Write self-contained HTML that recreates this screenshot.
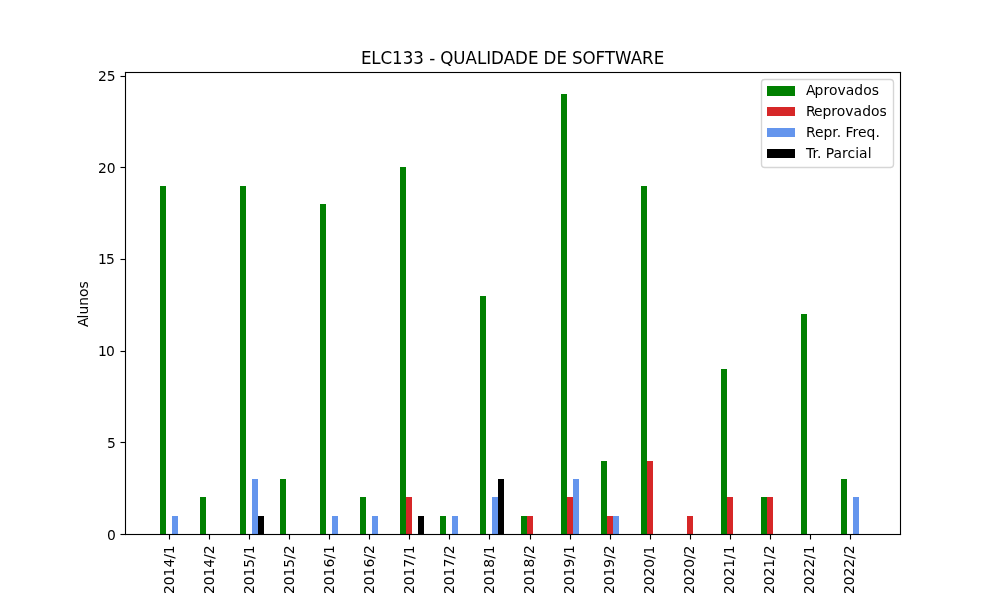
<!DOCTYPE html>
<html lang="pt-BR">
<head>
<meta charset="utf-8">
<title>ELC133 - QUALIDADE DE SOFTWARE</title>
<style>
html,body{margin:0;padding:0;background:#fff;}
body{width:1000px;height:600px;overflow:hidden;}
svg{display:block;}
text{font-family:"DejaVu Sans","Liberation Sans",sans-serif;fill:#000;}
.t10{font-size:13.889px;}
.t12{font-size:16.667px;}
.bar{shape-rendering:crispEdges;}
.ln{stroke:#000;stroke-width:1.111;fill:none;}
</style>
</head>
<body>
<svg width="1000" height="600" viewBox="0 0 1000 600">
<rect x="0" y="0" width="1000" height="600" fill="#ffffff"/>
<g class="bar">
<rect x="160" y="186" width="6" height="348" fill="#008000"/>
<rect x="172" y="516" width="6" height="18" fill="#6495ed"/>
<rect x="200" y="497" width="6" height="37" fill="#008000"/>
<rect x="240" y="186" width="6" height="348" fill="#008000"/>
<rect x="252" y="479" width="6" height="55" fill="#6495ed"/>
<rect x="258" y="516" width="6" height="18" fill="#000000"/>
<rect x="280" y="479" width="6" height="55" fill="#008000"/>
<rect x="320" y="204" width="6" height="330" fill="#008000"/>
<rect x="332" y="516" width="6" height="18" fill="#6495ed"/>
<rect x="360" y="497" width="6" height="37" fill="#008000"/>
<rect x="372" y="516" width="6" height="18" fill="#6495ed"/>
<rect x="400" y="167" width="6" height="367" fill="#008000"/>
<rect x="406" y="497" width="6" height="37" fill="#d62728"/>
<rect x="418" y="516" width="6" height="18" fill="#000000"/>
<rect x="440" y="516" width="6" height="18" fill="#008000"/>
<rect x="452" y="516" width="6" height="18" fill="#6495ed"/>
<rect x="480" y="296" width="6" height="238" fill="#008000"/>
<rect x="492" y="497" width="6" height="37" fill="#6495ed"/>
<rect x="498" y="479" width="6" height="55" fill="#000000"/>
<rect x="521" y="516" width="6" height="18" fill="#008000"/>
<rect x="527" y="516" width="6" height="18" fill="#d62728"/>
<rect x="561" y="94" width="6" height="440" fill="#008000"/>
<rect x="567" y="497" width="6" height="37" fill="#d62728"/>
<rect x="573" y="479" width="6" height="55" fill="#6495ed"/>
<rect x="601" y="461" width="6" height="73" fill="#008000"/>
<rect x="607" y="516" width="6" height="18" fill="#d62728"/>
<rect x="613" y="516" width="6" height="18" fill="#6495ed"/>
<rect x="641" y="186" width="6" height="348" fill="#008000"/>
<rect x="647" y="461" width="6" height="73" fill="#d62728"/>
<rect x="687" y="516" width="6" height="18" fill="#d62728"/>
<rect x="721" y="369" width="6" height="165" fill="#008000"/>
<rect x="727" y="497" width="6" height="37" fill="#d62728"/>
<rect x="761" y="497" width="6" height="37" fill="#008000"/>
<rect x="767" y="497" width="6" height="37" fill="#d62728"/>
<rect x="801" y="314" width="6" height="220" fill="#008000"/>
<rect x="841" y="479" width="6" height="55" fill="#008000"/>
<rect x="853" y="497" width="6" height="37" fill="#6495ed"/>
</g>
<g fill="#000">
<rect x="168.9444" y="534.5" width="1.1112" height="5"/>
<rect x="208.9444" y="534.5" width="1.1112" height="5"/>
<rect x="248.9444" y="534.5" width="1.1112" height="5"/>
<rect x="288.9444" y="534.5" width="1.1112" height="5"/>
<rect x="328.9444" y="534.5" width="1.1112" height="5"/>
<rect x="368.9444" y="534.5" width="1.1112" height="5"/>
<rect x="408.9444" y="534.5" width="1.1112" height="5"/>
<rect x="448.9444" y="534.5" width="1.1112" height="5"/>
<rect x="488.9444" y="534.5" width="1.1112" height="5"/>
<rect x="529.9444" y="534.5" width="1.1112" height="5"/>
<rect x="569.9444" y="534.5" width="1.1112" height="5"/>
<rect x="609.9444" y="534.5" width="1.1112" height="5"/>
<rect x="649.9444" y="534.5" width="1.1112" height="5"/>
<rect x="689.9444" y="534.5" width="1.1112" height="5"/>
<rect x="729.9444" y="534.5" width="1.1112" height="5"/>
<rect x="769.9444" y="534.5" width="1.1112" height="5"/>
<rect x="809.9444" y="534.5" width="1.1112" height="5"/>
<rect x="849.9444" y="534.5" width="1.1112" height="5"/>
<rect x="120.5" y="533.9444" width="5" height="1.1112"/>
<rect x="120.5" y="441.9444" width="5" height="1.1112"/>
<rect x="120.5" y="350.9444" width="5" height="1.1112"/>
<rect x="120.5" y="258.9444" width="5" height="1.1112"/>
<rect x="120.5" y="166.9444" width="5" height="1.1112"/>
<rect x="120.5" y="75.9444" width="5" height="1.1112"/>
<rect x="124.9444" y="71.9444" width="1.1112" height="463.1112"/>
<rect x="899.9444" y="71.9444" width="1.1112" height="463.1112"/>
<rect x="124.9444" y="533.9444" width="776.1112" height="1.1112"/>
<rect x="124.9444" y="71.9444" width="776.1112" height="1.1112"/>
</g>
<g class="t10">
<text transform="translate(173.59 593.94) rotate(-90)" x="0 8.75 17.5 26.375 35.125 39.75" y="0">2014/1</text>
<text transform="translate(213.60 594.04) rotate(-90)" x="0 8.75 17.5 26.375 35.125 39.75" y="0">2014/2</text>
<text transform="translate(253.65 594.08) rotate(-90)" x="0 8.75 17.5 26.375 35.125 39.75" y="0">2015/1</text>
<text transform="translate(293.66 594.07) rotate(-90)" x="0 8.75 17.5 26.375 35.125 39.75" y="0">2015/2</text>
<text transform="translate(333.67 593.89) rotate(-90)" x="0 8.75 17.5 26.375 35.25 39.875" y="0">2016/1</text>
<text transform="translate(373.68 593.90) rotate(-90)" x="0 8.75 17.5 26.375 35.25 39.875" y="0">2016/2</text>
<text transform="translate(413.66 594.10) rotate(-90)" x="0 8.75 17.5 26.375 35.125 39.75" y="0">2017/1</text>
<text transform="translate(453.67 593.99) rotate(-90)" x="0 8.75 17.5 26.375 35.125 39.75" y="0">2017/2</text>
<text transform="translate(493.67 594.04) rotate(-90)" x="0 8.75 17.5 26.375 35.25 39.875" y="0">2018/1</text>
<text transform="translate(533.68 593.92) rotate(-90)" x="0 8.75 17.5 26.375 35.25 39.875" y="0">2018/2</text>
<text transform="translate(573.63 593.96) rotate(-90)" x="0 8.75 17.5 26.375 35.25 39.875" y="0">2019/1</text>
<text transform="translate(613.64 594.11) rotate(-90)" x="0 8.75 17.5 26.375 35.25 39.875" y="0">2019/2</text>
<text transform="translate(653.65 594.11) rotate(-90)" x="0 8.75 17.5 26.25 35 39.625" y="0">2020/1</text>
<text transform="translate(693.67 594.12) rotate(-90)" x="0 8.75 17.5 26.25 35 39.625" y="0">2020/2</text>
<text transform="translate(733.66 594.00) rotate(-90)" x="0 8.75 17.5 26.25 35.125 39.75" y="0">2021/1</text>
<text transform="translate(773.68 594.12) rotate(-90)" x="0 8.75 17.5 26.25 35.125 39.75" y="0">2021/2</text>
<text transform="translate(813.68 593.98) rotate(-90)" x="0 8.75 17.5 26.25 35 39.625" y="0">2022/1</text>
<text transform="translate(853.70 593.98) rotate(-90)" x="0 8.75 17.5 26.25 35 39.625" y="0">2022/2</text>
<text x="107.009" y="539.56">0</text>
<text x="107.059" y="447.53">5</text>
<text x="98.019 105.894" y="355.67">10</text>
<text x="98.057 105.932" y="263.68">15</text>
<text x="97.953 106.703" y="172.67">20</text>
<text x="97.984 106.734" y="80.64">25</text>
<text transform="translate(87.70 326.99) rotate(-90)" x="0.109 8.609 12.484 21.234 29.984 38.484" y="0">Alunos</text>
</g>
<text class="t12" transform="translate(0 63.50) scale(1 1.07)" x="360.968 371.343 380.593 392.093 402.718 413.343 423.968 429.218 435.093 440.343 453.343 465.593 476.968 486.218 491.093 503.718 515.093 527.968 538.343 543.593 556.468 566.843 572.093 582.593 595.593 604.843 615.093 630.718 642.093 653.718" y="0">ELC133 - QUALIDADE DE SOFTWARE</text>
<rect x="761.5" y="79.5" width="132" height="88" rx="3.2" ry="3.2" fill="#ffffff" fill-opacity="0.8" stroke="#cccccc" stroke-opacity="0.8" stroke-width="1.389"/>
<g class="bar">
<rect x="767" y="86" width="28" height="10" fill="#008000"/>
<rect x="767" y="107" width="28" height="9" fill="#d62728"/>
<rect x="767" y="128" width="28" height="9" fill="#6495ed"/>
<rect x="767" y="149" width="28" height="9" fill="#000000"/>
</g>
<g class="t10">
<text x="806.06 814.56 823.435 828.935 837.435 845.685 854.31 863.185 871.685" y="94.55">Aprovados</text>
<text x="805.91 813.91 822.41 831.285 836.785 845.285 853.535 862.16 871.035 879.535" y="115.50">Reprovados</text>
<text x="805.981 814.981 823.481 832.356 836.856 841.231 845.606 852.606 858.106 866.606 875.481" y="136.71">Repr. Freq.</text>
<text x="805.909 812.409 816.909 821.284 825.659 833.409 842.034 847.534 855.159 859.034 867.659" y="157.72">Tr. Parcial</text>
</g>
</svg>
</body>
</html>
